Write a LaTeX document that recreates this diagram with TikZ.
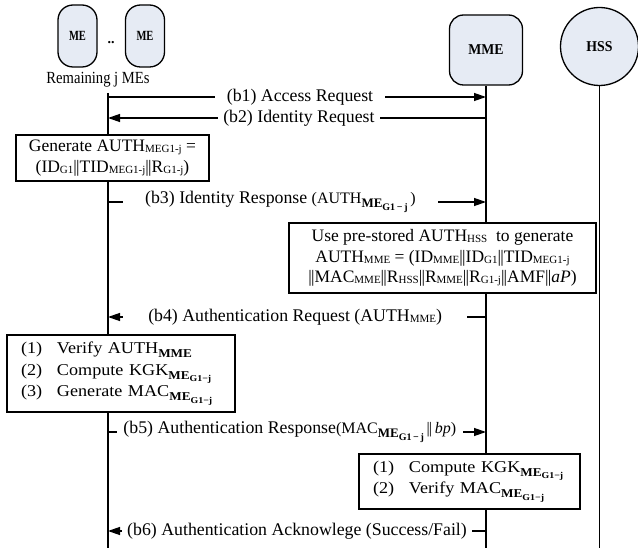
\documentclass[tikz,border=0pt]{standalone}
\usepackage{fontspec}
\setmainfont{Liberation Serif}
\newfontfamily\wideserif[FakeStretch=1.1]{Liberation Serif}
\newfontfamily\narrowserif[FakeStretch=0.86]{Liberation Serif}
\newfontfamily\bnarrow[FakeStretch=0.92]{Liberation Serif Bold}
\newfontfamily\bnarrower[FakeStretch=0.75]{Liberation Serif Bold}
\usetikzlibrary{arrows.meta}
\definecolor{boxfill}{RGB}{230,235,244}
\newcommand\fs[2]{\fontsize{#1}{#2}\selectfont}
\newcommand\lsub[1]{\raisebox{-1pt}{\fs{11}{11}#1}}
\newcommand\msub[2]{\raisebox{-4pt}{\fs{12}{12}\bfseries #1\raisebox{-2.5pt}{\fs{9}{9}#2}}}
\newcommand\Msub[2]{\raisebox{-4pt}{\fs{13}{13}\bfseries #1\raisebox{-2.5pt}{\fs{10}{10}#2}}}
\newcommand\dbar{\textbar\kern-0.8pt\textbar}
\begin{document}
\begin{tikzpicture}[x=1pt,y=-1pt,
  mebox/.style={draw, line width=1.3pt, fill=boxfill, rounded corners=15pt, minimum width=39pt, minimum height=62pt, inner sep=0pt, font=\bnarrower\fs{14}{14}},
  mmebox/.style={draw, line width=1.3pt, fill=boxfill, rounded corners=14pt, minimum width=73pt, minimum height=70pt, inner sep=0pt, font=\bnarrow\fs{15}{15}},
  hssbox/.style={draw, circle, line width=1.3pt, fill=boxfill, minimum size=78pt, inner sep=0pt, font=\bnarrow\fs{15}{15}},
  life/.style={line width=1.6pt},
  msg/.style={line width=1.3pt, -{Triangle[length=12pt,width=8pt]}},
  lbl/.style={fill=white, inner sep=0pt, minimum height=10pt, font=\fs{17.8}{20}},
  procbox/.style={draw, fill=white, line width=1.6pt, inner sep=0pt, align=center, font=\fs{17.5}{20.5}},
  listbox/.style={draw, fill=white, line width=1.6pt, inner ysep=0pt, align=left, font=\wideserif\fs{16.5}{21.5}},
]
\useasboundingbox (0,0) rectangle (638,548);
\fill[white] (0,0) rectangle (638,548);

% participants
\node[mebox] (me1) at (77.5,36) {ME};
\node[mebox] (me2) at (145,36) {ME};
\node[font=\rmfamily\fs{14}{14}\bfseries, inner sep=0pt] (dots) at (111,43) {..};
\node[font=\narrowserif\fs{17}{17}, inner sep=0pt] (rem) at (98,80) {Remaining j MEs};
\node[mmebox] (mme) at (486,50) {MME};
\node[hssbox] (hss) at (599.5,46.5) {HSS};

% lifelines
\coordinate (meTop) at (108,93);
\coordinate (meBot) at (108,548);
\coordinate (mmeBot) at (486,548);
\coordinate (hssBot) at (599.5,548);
\draw[life] (meTop) -- (meBot);
\draw[life] (mme.south) -- (mmeBot);
\draw[life] (hss.south) -- (hssBot);

% message end points
\coordinate (me1y) at (108,97);   \coordinate (mm1y) at (486,97);
\coordinate (me2y) at (108,118);  \coordinate (mm2y) at (486,118);
\coordinate (me3y) at (108,202);  \coordinate (mm3y) at (486,202);
\coordinate (me4y) at (108,317);  \coordinate (mm4y) at (486,317);
\coordinate (me5y) at (108,432);  \coordinate (mm5y) at (486,432);
\coordinate (me6y) at (108,531);  \coordinate (mm6y) at (486,531);

% messages
\draw[msg] (me1y) -- (mm1y) node[lbl, pos=0.508, minimum width=170pt] (b1) {(b1) Access Request};
\draw[msg] (mm2y) -- (me2y) node[lbl, pos=0.495, minimum width=162pt] (b2) {(b2) Identity Request};

\node[procbox, minimum width=193pt, minimum height=46pt] (gen) at (112.5,158)
  {Generate AUTH\lsub{MEG1-j} =\\(ID\lsub{G1}\dbar TID\lsub{MEG1-j}\dbar R\lsub{G1-j})};

\draw[msg] (me3y) -- (mm3y) node[lbl, pos=0.456, minimum width=315pt] (b3)
  {(b3) Identity Response {\fs{16}{16}(AUTH\Msub{ME}{G1\,−\,j}\,)}};

\node[procbox, minimum width=307pt, minimum height=70pt] (use) at (442.5,258)
  {Use pre-stored AUTH\lsub{HSS}\ \ to generate\\
   AUTH\lsub{MME} = (ID\lsub{MME}\dbar ID\lsub{G1}\dbar TID\lsub{MEG1-j}\\
   \dbar MAC\lsub{MME}\dbar R\lsub{HSS}\dbar R\lsub{MME}\dbar R\lsub{G1-j}\dbar AMF\dbar\textit{aP})};

\draw[msg] (mm4y) -- (me4y) node[lbl, pos=0.505, minimum width=344pt] (b4)
  {(b4) Authentication Request (AUTH\lsub{MME})};

\node[listbox, inner xsep=14pt, text width=200pt, minimum height=77pt] (ver) at (121,373.5)
  {\makebox[36pt][l]{(1)}Verify AUTH\msub{MME}{}\\
   \makebox[36pt][l]{(2)}Compute KGK\msub{ME}{G1−j}\\
   \makebox[36pt][l]{(3)}Generate MAC\msub{ME}{G1−j}};

\draw[msg] (me5y) -- (mm5y) node[lbl, pos=0.481, minimum width=346pt] (b5)
  {(b5) Authentication Response{\fs{16}{16}(MAC\Msub{ME}{G1\,−\,j}\,\dbar\,\textit{bp})}};

\node[listbox, inner xsep=14pt, text width=193pt, minimum height=55pt] (cmp) at (469.5,481.5)
  {\makebox[36pt][l]{(1)}Compute KGK\msub{ME}{G1−j}\\
   \makebox[36pt][l]{(2)}Verify MAC\msub{ME}{G1−j}};

\draw[msg] (mm6y) -- (me6y) node[lbl, pos=0.5, minimum width=350pt] (b6)
  {(b6) Authentication Acknowlege (Success/Fail)};
\end{tikzpicture}
\end{document}
